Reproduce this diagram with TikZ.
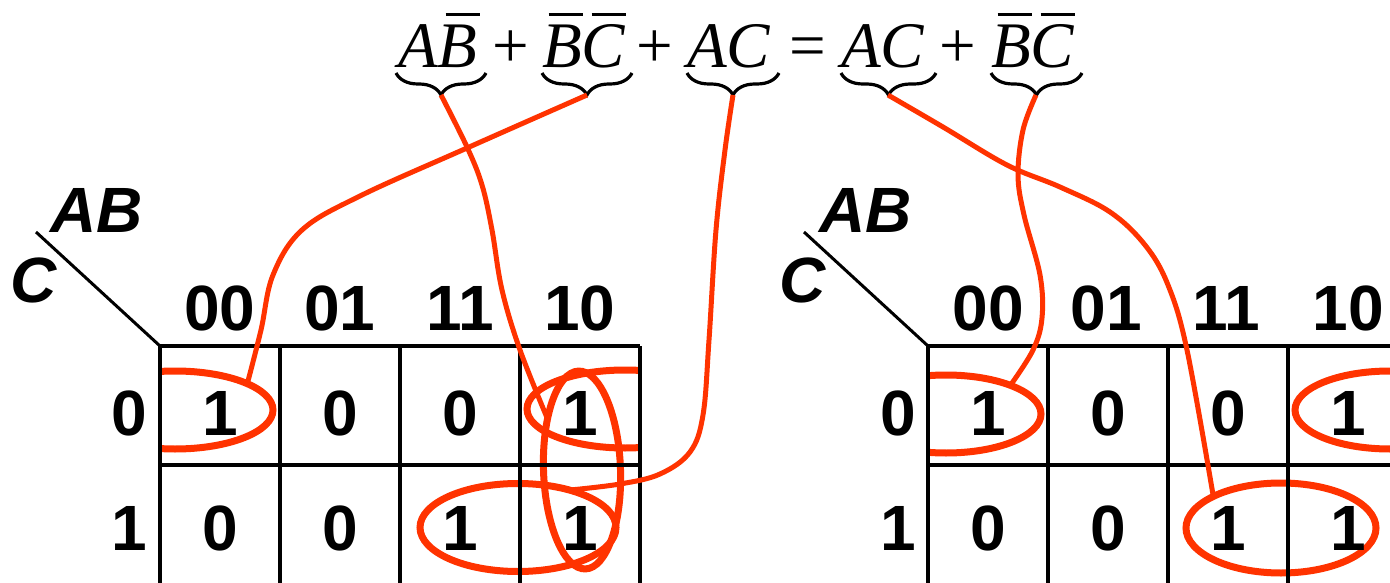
\documentclass[tikz,border=0pt]{standalone}
\usepackage{fontspec}
\usetikzlibrary{shapes.geometric,decorations.pathreplacing,calc}
\newfontfamily\sansfnt{Liberation Sans}
\newfontfamily\eqfont{Liberation Serif}
\definecolor{kred}{RGB}{255,51,0}
\newcommand\obar[2][0.1em]{\leavevmode\rlap{\kern#1\rule[0.8em]{0.53em}{0.047em}}#2}
\tikzset{
  digit/.style={font=\sansfnt\bfseries\fontsize{64}{64}\selectfont, inner sep=0pt, anchor=base},
  varlbl/.style={font=\sansfnt\bfseries\itshape\fontsize{64}{64}\selectfont, inner sep=0pt, anchor=base west},
  eqterm/.style={font=\eqfont\itshape\fontsize{65}{70}\selectfont, inner sep=0pt, anchor=base west},
  eqop/.style={font=\eqfont\fontsize{65}{70}\selectfont, inner sep=0pt, anchor=base},
  brc/.style={decorate, decoration={brace, mirror, amplitude=22pt}, line width=3.2pt},
  ell/.style={ellipse, draw=kred, line width=7pt, inner sep=0pt, outer sep=0pt},
  conn/.style={draw=kred, line width=5pt},
  gridline/.style={line width=3.3pt},
  diag/.style={line width=3pt}
}
\begin{document}
\begin{tikzpicture}[x=1pt,y=1pt]
\useasboundingbox (0,0) rectangle (1390,-583);
\fill[white] (0,0) rectangle (1390,-583);

% ---------- equation ----------
\node[eqterm] (t1) at (398,-68) {A\obar[0.12em]{B}};
\node[eqop] (p1) at (511,-68) {+};
\node[eqterm] (t2) at (542,-68) {\obar{B}\obar[0.15em]{C}};
\node[eqop] (p2) at (655,-68) {+};
\node[eqterm] (t3) at (687,-68) {AC};
\node[eqop] (eq) at (808,-68) {=};
\node[eqterm] (t4) at (841,-68) {AC};
\node[eqop] (p3) at (958,-68) {+};
\node[eqterm] (t5) at (991,-68) {\obar{B}\obar[0.15em]{C}};

\draw[brc] ($(t1.base west)+(-2,-5)$) -- ($(t1.base west)+(88,-5)$);
\draw[brc] ($(t2.base west)+(0,-5)$) -- ($(t2.base west)+(90,-5)$);
\draw[brc] ($(t3.base west)+(0,-5)$) -- ($(t3.base west)+(92,-5)$);
\draw[brc] ($(t4.base west)+(0,-5)$) -- ($(t4.base west)+(95,-5)$);
\draw[brc] ($(t5.base west)+(0,-5)$) -- ($(t5.base west)+(91,-5)$);
\coordinate (b1) at ($(t1.base west)+(43,-27)$);
\coordinate (b2) at ($(t2.base west)+(45,-27)$);
\coordinate (b3) at ($(t3.base west)+(46,-27)$);
\coordinate (b4) at ($(t4.base west)+(47,-27)$);
\coordinate (b5) at ($(t5.base west)+(45,-27)$);

% ---------- ellipses (left map) ----------
\begin{scope}
  \clip (160,-300) rectangle (700,-583);
  \node[ell, minimum width=196pt, minimum height=78pt] (e1) at (175,-410) {};
\end{scope}
\begin{scope}
  \clip (100,-300) rectangle (640,-583);
  \node[ell, minimum width=196pt, minimum height=78pt] (e2) at (625,-409) {};
\end{scope}
\node[ell, minimum width=196pt, minimum height=88pt] (e3) at (518,-527.5) {};
\node[ell, minimum width=77pt, minimum height=198pt, rotate=2] (e4) at (582,-470) {};

% ---------- ellipses (right map) ----------
\begin{scope}
  \clip (928,-300) rectangle (1390,-583);
  \node[ell, minimum width=190pt, minimum height=78pt] (e5) at (946,-414) {};
  \node[ell, minimum width=190pt, minimum height=78pt] (e6) at (1390,-410) {};
\end{scope}
\node[ell, minimum width=190pt, minimum height=90pt] (e7) at (1281,-528) {};

% ---------- left map grid ----------
\draw[gridline] (160,-346) -- (640,-346);
\draw[gridline] (160,-465) -- (640,-465);
\foreach \x in {160,280,400,520,640} \draw[gridline] (\x,-346) -- (\x,-583);
\draw[diag] (36,-232) -- (160,-346);
\node[varlbl] (ab1) at (50,-233) {AB};
\node[varlbl] (c1) at (10,-302) {C};
\node[digit] (h100) at (220,-330) {00};
\node[digit] (h101) at (340,-330) {01};
\node[digit] (h111) at (460,-330) {11};
\node[digit] (h110) at (580,-330) {10};
\node[digit] (r10) at (129,-435) {0};
\node[digit] (r11) at (129,-550) {1};
\node[digit] (m1a) at (220,-435) {1};
\node[digit] (m1b) at (340,-435) {0};
\node[digit] (m1c) at (460,-435) {0};
\node[digit] (m1d) at (580,-435) {1};
\node[digit] (m1e) at (220,-550) {0};
\node[digit] (m1f) at (340,-550) {0};
\node[digit] (m1g) at (460,-550) {1};
\node[digit] (m1h) at (580,-550) {1};

% ---------- right map grid ----------
\draw[gridline] (928,-346) -- (1390,-346);
\draw[gridline] (928,-465) -- (1390,-465);
\foreach \x in {928,1048,1168,1288} \draw[gridline] (\x,-346) -- (\x,-583);
\draw[diag] (804,-232) -- (928,-346);
\node[varlbl] (ab2) at (819,-233) {AB};
\node[varlbl] (c2) at (779,-302) {C};
\node[digit] (h200) at (988,-330) {00};
\node[digit] (h201) at (1106,-330) {01};
\node[digit] (h211) at (1226,-330) {11};
\node[digit] (h210) at (1348,-330) {10};
\node[digit] (r20) at (898,-435) {0};
\node[digit] (r21) at (898,-550) {1};
\node[digit] (m2a) at (988,-435) {1};
\node[digit] (m2b) at (1108,-435) {0};
\node[digit] (m2c) at (1228,-435) {0};
\node[digit] (m2d) at (1348,-435) {1};
\node[digit] (m2e) at (988,-550) {0};
\node[digit] (m2f) at (1108,-550) {0};
\node[digit] (m2g) at (1228,-550) {1};
\node[digit] (m2h) at (1348,-550) {1};

% ---------- connectors ----------
\draw[conn] plot[smooth, tension=0.6] coordinates {(b1) (467,-147) (482,-185) (492,-230) (502,-290) (520,-350) (e4.122)};
\draw[conn] plot[smooth, tension=0.6] coordinates {(b2) (467,-148) (360,-196) (302,-230) (273,-275) (261,-330) (e1.20)};
\draw[conn] plot[smooth, tension=0.6] coordinates {(b3) (725,-150) (716,-230) (709,-340) (703,-415) (690,-452) (660,-474) (620,-484) (e3.36)};
\draw[conn] plot[smooth, tension=0.6] coordinates {(b4) (943,-127) (1007,-165) (1060,-187) (1110,-212) (1145,-245) (1168,-285) (1187,-350) (e7.155)};
\draw[conn] plot[smooth, tension=0.6] coordinates {(b5) (1023,-130) (1018,-175) (1024,-215) (1040,-275) (1042,-318) (1033,-350) (e5.24)};
\end{tikzpicture}
\end{document}
